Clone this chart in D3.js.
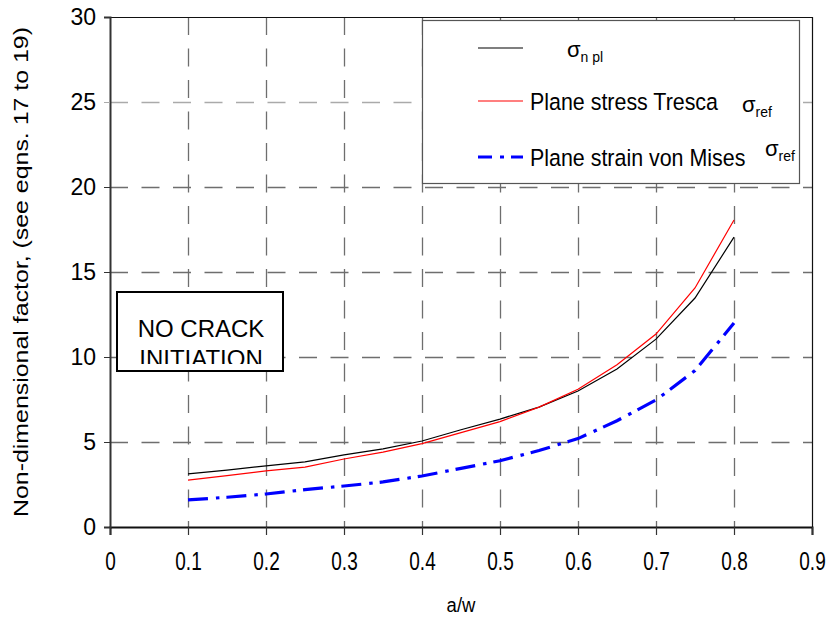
<!DOCTYPE html>
<html><head><meta charset="utf-8">
<script src="https://cdn.jsdelivr.net/npm/d3@7"></script>
<style>body{margin:0;background:#fff}text{font-family:"Liberation Sans",Arial,sans-serif}</style>
</head><body>
<svg id="c" width="831" height="618"></svg>
<script>
const aw = [0.1,0.15,0.2,0.25,0.3,0.35,0.4,0.45,0.5,0.55,0.6,0.65,0.7,0.75,0.8];
const sigmaNpl = [3.12,3.35,3.6,3.83,4.24,4.6,5.06,5.72,6.35,7.05,8.0,9.3,11.05,13.47,17.05];
const tresca = [2.76,3.02,3.3,3.52,4.0,4.4,4.9,5.55,6.2,7.05,8.1,9.55,11.35,14.06,18.06];
const vonMises = [1.59,1.75,1.94,2.2,2.41,2.65,3.0,3.45,3.9,4.5,5.2,6.25,7.47,9.2,12.0];
const xTicks = [0,0.1,0.2,0.3,0.4,0.5,0.6,0.7,0.8,0.9];
const yTicks = [0,5,10,15,20,25,30];
const xTitle = "a/w";
const yTitle = "Non-dimensional factor, (see eqns. 17 to 19)";
const noteLines = ["NO CRACK","INITIATION"];

const svg = d3.select("#c");
const x = d3.scaleLinear().domain([0,0.9]).range([110,812]);
const y = d3.scaleLinear().domain([0,30]).range([527,17]);

// grid
const g = svg.append("g");
g.selectAll(".vg").data(xTicks.filter(d=>d>0&&d<0.9)).enter().append("line")
  .attr("x1",d=>Math.round(x(d))+0.5).attr("x2",d=>Math.round(x(d))+0.5)
  .attr("y1",y(30)).attr("y2",y(0)).attr("stroke","#6e6e6e").attr("stroke-width",1.3)
  .attr("stroke-dasharray","18,13.5");
g.selectAll(".hg").data(yTicks.filter(d=>d>0&&d<30)).enter().append("line")
  .attr("y1",d=>Math.round(y(d))+0.5).attr("y2",d=>Math.round(y(d))+0.5)
  .attr("x1",x(0)).attr("x2",x(0.9)).attr("stroke",d=>d===25?"#aaa":"#6e6e6e").attr("stroke-width",1.3)
  .attr("stroke-dasharray","18,13.5");

// frame
svg.append("line").attr("x1",x(0)).attr("x2",x(0.9)).attr("y1",y(30)+0.5).attr("y2",y(30)+0.5).attr("stroke","#111").attr("stroke-width",1.2);
svg.append("line").attr("x1",x(0.9)+0.5).attr("x2",x(0.9)+0.5).attr("y1",y(30)).attr("y2",y(0)).attr("stroke","#111").attr("stroke-width",1.2);

// axes
const xAxis = d3.axisBottom(x).tickValues(xTicks).tickSize(8).tickPadding(17).tickFormat(d3.format("~g"));
const xa = svg.append("g").attr("transform",`translate(0,${y(0)})`).call(xAxis);
xa.select(".domain").attr("stroke","#111").attr("stroke-width",2);
xa.selectAll(".tick line").attr("stroke","#333").attr("stroke-width",1.2);
xa.selectAll(".tick text").attr("font-size",25).attr("fill","#000")
  .attr("font-family","Liberation Sans, Arial, sans-serif")
  .attr("transform","scale(0.76,1)");

const yAxis = d3.axisLeft(y).tickValues(yTicks).tickSize(6).tickPadding(8).tickFormat(d3.format("d"));
const ya = svg.append("g").attr("transform",`translate(${x(0)},0)`).call(yAxis);
ya.select(".domain").attr("stroke","#333").attr("stroke-width",2);
ya.selectAll(".tick line").attr("stroke",d=>d===25?"#aaa":"#333").attr("stroke-width",1);
ya.selectAll(".tick text").attr("font-size",23).attr("fill","#000").attr("font-family","Liberation Sans, Arial, sans-serif");

// titles
svg.append("text").attr("x",(x(0)+x(0.9))/2).attr("y",612).attr("text-anchor","middle")
  .attr("font-size",21).attr("transform",`translate(${(x(0)+x(0.9))/2*0.12},0) scale(0.88,1)`).text(xTitle);
svg.append("text").attr("transform",`translate(28,${(y(0)+y(30))/2}) rotate(-90)`)
  .attr("text-anchor","middle").attr("font-size",20).attr("textLength",490).attr("lengthAdjust","spacingAndGlyphs").text(yTitle);

// note box
svg.append("clipPath").attr("id","noteclip").append("rect")
  .attr("x",117).attr("y",292).attr("width",166).attr("height",72);
svg.append("rect").attr("x",117).attr("y",292).attr("width",166).attr("height",79)
  .attr("fill","#fff").attr("stroke","#000").attr("stroke-width",2);
const nt = svg.append("g").attr("clip-path","url(#noteclip)");
nt.selectAll("text").data(noteLines).enter().append("text")
  .attr("x",201).attr("y",(d,i)=>337+i*30).attr("text-anchor","middle").attr("font-size",24).text(d=>d);

// lines
const line = d3.line().x((d,i)=>x(aw[i])).y(d=>y(d));
svg.append("path").datum(sigmaNpl).attr("d",line).attr("fill","none").attr("stroke","#000").attr("stroke-width",1.2);
svg.append("path").datum(tresca).attr("d",line).attr("fill","none").attr("stroke","#f00").attr("stroke-width",1.2);
svg.append("path").datum(vonMises).attr("d",line).attr("fill","none").attr("stroke","#0000ff").attr("stroke-width",3.2)
  .attr("stroke-dasharray","20,8,3.5,7");

// legend
const lg = svg.append("g");
lg.append("rect").attr("x",422.5).attr("y",20.5).attr("width",377).attr("height",163)
  .attr("fill","#fff").attr("stroke","#555").attr("stroke-width",1.2);
const items = [
  {y:48, color:"#000", w:1.2, dash:null, label:"", sx:567, sy:57, sub:"n pl"},
  {y:101, color:"#f00", w:1.2, dash:null, label:"Plane stress Tresca", sx:742, sy:112, sub:"ref"},
  {y:157, color:"#0000ff", w:3.2, dash:"14,8,4,7", label:"Plane strain von Mises", sx:765, sy:156, sub:"ref"}
];
items.forEach(it=>{
  lg.append("line").attr("x1",478).attr("x2",523).attr("y1",it.y).attr("y2",it.y)
    .attr("stroke",it.color).attr("stroke-width",it.w).attr("stroke-dasharray",it.dash);
  if(it.label) lg.append("g").attr("transform",`translate(530,${it.y+9}) scale(1.02,1.15)`)
    .append("text").attr("x",0).attr("y",0).attr("font-size",21).text(it.label);
  const t = lg.append("text").attr("x",it.sx).attr("y",it.sy).attr("font-size",22);
  t.append("tspan").text("σ");
  t.append("tspan").attr("font-size",14).attr("dy",5).text(it.sub);
});
</script>
</body></html>
